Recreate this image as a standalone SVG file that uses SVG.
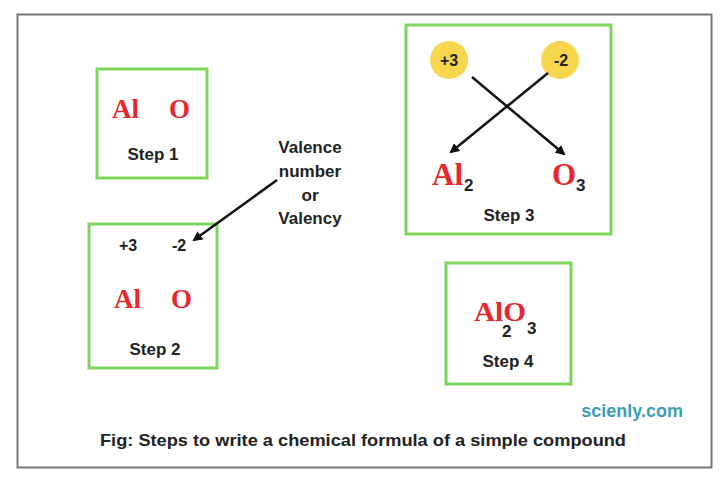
<svg xmlns="http://www.w3.org/2000/svg" width="720" height="482" viewBox="0 0 720 482">
<style>
.box{fill:#fff;stroke:#7dd55a;stroke-width:3}
.el{font-family:"Liberation Serif",serif;font-weight:bold;fill:#e8262b}
.lbl{font-family:"Liberation Sans",Arial,sans-serif;font-weight:bold;fill:#222;text-anchor:middle}
.sub{font-family:"Liberation Sans",Arial,sans-serif;font-weight:bold;fill:#222}
.ln{stroke:#111;stroke-width:2.5;fill:none;marker-end:url(#ah)}
</style>
<defs>
<marker id="ah" viewBox="0 0 10 10" refX="8" refY="5" markerWidth="4" markerHeight="4" orient="auto">
<path d="M0,0 L10,5 L0,10 z" fill="#111"/>
</marker>
</defs>
<rect x="0" y="0" width="720" height="482" fill="#fff"/>
<rect x="17.5" y="14.5" width="694" height="453" fill="#fff" stroke="#777" stroke-width="2"/>

<g id="step1">
<rect class="box" x="97" y="69" width="110" height="109"/>
<text class="el" x="112" y="118" font-size="27">Al</text>
<text class="el" x="169" y="118" font-size="27">O</text>
<text class="lbl" x="153" y="160" font-size="17">Step 1</text>
</g>

<g id="step2">
<rect class="box" x="89" y="224" width="128" height="144"/>
<text class="sub" x="119" y="251" font-size="16">+3</text>
<text class="sub" x="172" y="251" font-size="16">-2</text>
<text class="el" x="114" y="308" font-size="27">Al</text>
<text class="el" x="171" y="308" font-size="27">O</text>
<text class="lbl" x="155" y="355" font-size="17">Step 2</text>
</g>

<g id="valence">
<text class="lbl" x="310" y="153" font-size="17">Valence</text>
<text class="lbl" x="310" y="177" font-size="17">number</text>
<text class="lbl" x="310" y="201" font-size="17">or</text>
<text class="lbl" x="310" y="224" font-size="17">Valency</text>
</g>

<g id="step3">
<rect class="box" x="406" y="25" width="205" height="209"/>
<circle cx="449" cy="60" r="19" fill="#f8d64e"/>
<circle cx="560" cy="60" r="19" fill="#f8d64e"/>
<text class="lbl" x="449" y="66" font-size="16">+3</text>
<text class="lbl" x="561" y="66" font-size="16">-2</text>
<text class="el" x="432" y="185" font-size="31">Al</text>
<text class="sub" x="464" y="191" font-size="17">2</text>
<text class="el" x="552" y="185" font-size="31">O</text>
<text class="sub" x="576" y="191" font-size="17">3</text>
<text class="lbl" x="509" y="221" font-size="17">Step 3</text>
</g>

<g id="step4">
<rect class="box" x="446" y="263" width="125" height="121"/>
<text class="el" x="474" y="321" font-size="27" textLength="52" lengthAdjust="spacingAndGlyphs">AlO</text>
<text class="sub" x="502" y="337" font-size="17">2</text>
<text class="sub" x="527" y="334" font-size="17">3</text>
<text class="lbl" x="508" y="367" font-size="17">Step 4</text>
</g>

<g id="connectors">
<line class="ln" x1="277" y1="180" x2="194" y2="240"/>
<line class="ln" x1="472" y1="77" x2="564" y2="154"/>
<line class="ln" x1="548" y1="73" x2="451" y2="152"/>
</g>

<text x="683" y="417" font-family="Liberation Sans,Arial,sans-serif" font-weight="bold" font-size="18" fill="#3a9fb5" text-anchor="end">scienly.com</text>
<text x="100" y="446" font-family="Liberation Sans,Arial,sans-serif" font-weight="bold" font-size="17" fill="#222" textLength="526" lengthAdjust="spacingAndGlyphs">Fig: Steps to write a chemical formula of a simple compound</text>
</svg>
